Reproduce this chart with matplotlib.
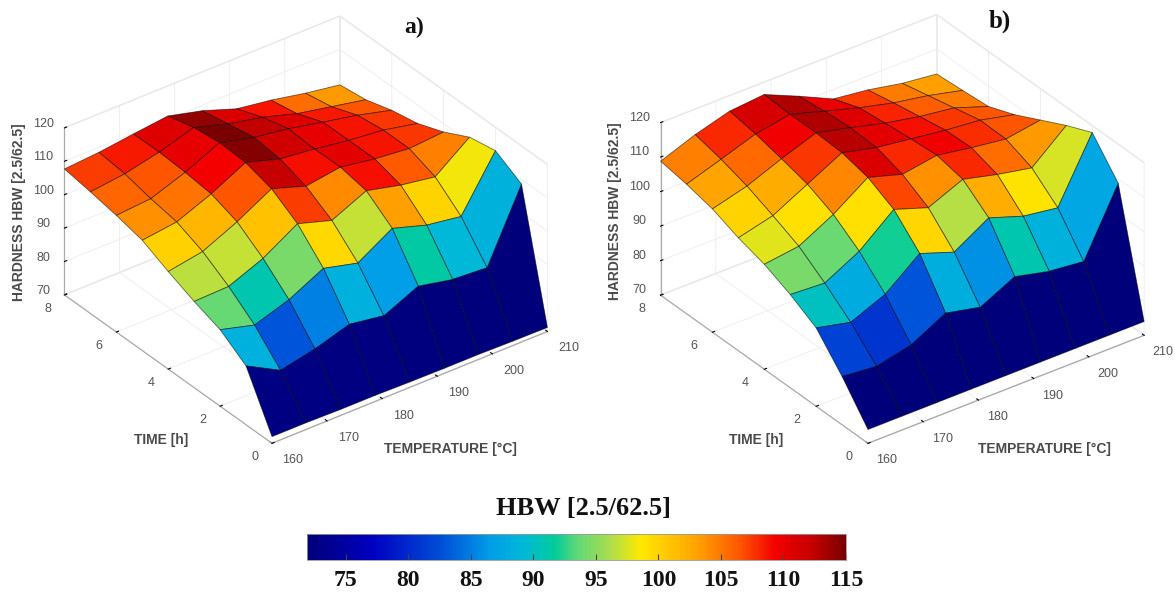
# hardness surfaces, two panels and one shared colorbar
import matplotlib
matplotlib.use("Agg")
import matplotlib.pyplot as plt
from matplotlib import cm
from matplotlib.colors import LinearSegmentedColormap, Normalize
from mpl_toolkits.mplot3d import proj3d
import numpy as np

temperature = [160, 166.25, 172.5, 178.75, 185, 191.25, 197.5, 203.75, 210]
time_h = [0, 1, 2, 3, 4, 5, 6, 7, 8]

# rows are time, columns are temperature
hardness_a = [
    [72, 72, 71.8, 71.8, 71.6, 71.5, 71.5, 71.3, 71.2],
    [87.6, 82.1, 84.3, 87.5, 85.9, 90.6, 88.4, 87.7, 108.6],
    [92.9, 90.1, 93.5, 98.7, 96.1, 102.3, 99.1, 97.5, 113],
    [95.8, 96.1, 100.3, 106.5, 103.3, 108, 105.5, 103.8, 111.5],
    [99.2, 101, 105.7, 111.4, 108, 109.5, 107.8, 106.7, 107.5],
    [103, 104.3, 108.5, 113.7, 110.6, 109.4, 107.8, 106.7, 104.5],
    [104.9, 105.7, 109.4, 114.1, 111.5, 109.9, 107.7, 105.6, 102.9],
    [106.4, 107.6, 109.9, 113.1, 110, 107.8, 104.7, 102.6, 100.5],
    [107.7, 108.5, 109.8, 111, 108.4, 104.8, 103.2, 101.1, 99.4],
]
hardness_b = [
    [74, 74, 74, 74, 74, 74, 74, 74, 74],
    [84, 83, 85.3, 90.6, 88.4, 93.4, 91, 89.9, 108.7],
    [92.7, 90.4, 94.6, 102.5, 99, 105, 101.6, 100.1, 118],
    [97, 96.4, 101.7, 109.9, 106.5, 110.8, 108.3, 106.3, 114.7],
    [100.4, 101.7, 107, 113.8, 110.8, 112.4, 110.7, 109.3, 110.9],
    [102.7, 105.2, 110.4, 115.6, 113.2, 111.8, 110.4, 109.4, 107.1],
    [105.7, 108.4, 112.4, 116, 113.6, 111, 109, 107.6, 104.1],
    [107.5, 110.8, 114.2, 116, 113, 110.1, 107.6, 105.8, 103.4],
    [108.8, 112.6, 115.5, 116.4, 112, 107.3, 106, 104, 102.8],
]

temp_ticks = [160, 170, 180, 190, 200, 210]
time_ticks = [0, 2, 4, 6, 8]
hbw_ticks = [70, 80, 90, 100, 110, 120]
cbar_ticks = [75, 80, 85, 90, 95, 100, 105, 110, 115]
cbar_range = [71.9, 115]

# the printed jet is duller than the stock one, colours taken from the colorbar
jet_stops = [(0.0, "#00007a"), (0.12, "#0000c0"), (0.25, "#0050d8"), (0.34, "#009ee8"),
             (0.40, "#00b8d8"), (0.46, "#00cc9a"), (0.50, "#5fd878"), (0.56, "#a8dd50"),
             (0.62, "#ffe800"), (0.72, "#ffa500"), (0.80, "#ff5a00"), (0.87, "#f40000"),
             (0.94, "#c40000"), (1.0, "#7a0000")]
print_jet = LinearSegmentedColormap.from_list("print_jet", jet_stops)

W, H = 1175, 594
SANS = "Liberation Sans"
SERIF = "Liberation Serif"
GRAY = "#555555"

fig = plt.figure(figsize=(W / 100, H / 100), dpi=100)


def surface(rect, data, elev, azim, aspect):
    ax = fig.add_axes(rect, projection="3d")
    ax.set_proj_type("ortho")
    ax.view_init(elev=elev, azim=azim)
    ax.set_box_aspect(aspect)
    ax.patch.set_alpha(0)

    X, Y = np.meshgrid(temperature, time_h)
    Z = np.array(data)
    colors = print_jet(Normalize(Z.min(), Z.max())(Z))
    ax.plot_surface(X, Y, Z, facecolors=colors, rstride=1, cstride=1, shade=False,
                    edgecolor=(0, 0, 0, 0.55), linewidth=0.6, antialiased=True)

    ax.set_xlim(160, 210, view_margin=0)
    ax.set_ylim(0, 8, view_margin=0)
    ax.set_zlim(70, 120, view_margin=0)
    ax.set_xticks(temp_ticks)
    ax.set_yticks(time_ticks)
    ax.set_zticks(hbw_ticks)
    ax.set_xticklabels([])
    ax.set_yticklabels([])
    ax.set_zticklabels([])
    for axis in (ax.xaxis, ax.yaxis, ax.zaxis):
        axis.set_pane_color((1, 1, 1, 1))
        axis.pane.set_edgecolor("#e4e4e4")
        axis.line.set_color("#aaaaaa")
        axis.line.set_linewidth(0.9)
        axis._axinfo["grid"].update(color="#ececec", linewidth=0.6)
        axis._axinfo["tick"].update(color="#999999", inward_factor=0.0, outward_factor=0.1)
    return ax


def to_px(ax, x, y, z):
    px, py, _ = proj3d.proj_transform(x, y, z, ax.get_proj())
    return ax.transData.transform((px, py))


def fit(ax, front, right):
    # move and scale the axes so two floor corners land on these pixels
    fig.canvas.draw()
    p0 = to_px(ax, 160, 0, 70)
    p1 = to_px(ax, 210, 0, 70)
    t0 = np.array([front[0], H - front[1]], dtype=float)
    t1 = np.array([right[0], H - right[1]], dtype=float)
    s = np.linalg.norm(t1 - t0) / np.linalg.norm(p1 - p0)
    pos = ax.get_position()
    ll = np.array([pos.x0 * W, pos.y0 * H])
    new_ll = t0 - (p0 - ll) * s
    ax.set_position([new_ll[0] / W, new_ll[1] / H, pos.width * s, pos.height * s])
    fig.canvas.draw()


def tick_text(ax, pos, off, s):
    # text at a projected tick position, off is in pixels, y down
    fig.text((pos[0] + off[0]) / W, (pos[1] - off[1]) / H, s, ha="center", va="center",
             family=SANS, fontsize=9, color=GRAY)


def tick_labels(ax, xoff, yoff, zoff):
    for t in temp_ticks:
        tick_text(ax, to_px(ax, t, 0, 70), xoff, str(t))
    for t in time_ticks:
        tick_text(ax, to_px(ax, 160, t, 70), yoff, str(t))
    for t in hbw_ticks:
        tick_text(ax, to_px(ax, 160, 8, t), zoff, str(t))


ax_a = surface([0.02, 0.1, 0.4, 0.4 * W / H], hardness_a, 32.6, -127, (1, 1, 0.575))
ax_b = surface([0.52, 0.1, 0.4, 0.4 * W / H], hardness_b, 31.9, -126.5, (1, 1.015, 0.592))
fit(ax_a, (272, 443.3), (547.5, 331.7))
fit(ax_b, (868, 443.3), (1144, 335))
tick_labels(ax_a, (21, 17), (-17, 14), (-21, -4))
tick_labels(ax_b, (19, 17), (-19, 14), (-21, -5))


def label(x, y, s, **kw):
    fig.text(x / W, 1 - y / H, s, ha="center", va="center", **kw)


axis_label = dict(family=SANS, weight="bold", fontsize=10, color="#4a4a4a")
label(161, 440, "TIME [h]", **axis_label)
label(756, 440, "TIME [h]", **axis_label)
label(19, 212, "HARDNESS HBW [2.5/62.5]", rotation=90, **axis_label)
label(615, 211, "HARDNESS HBW [2.5/62.5]", rotation=90, **axis_label)
label(450, 449, "TEMPERATURE [°C]", **axis_label)
label(1044, 449, "TEMPERATURE [°C]", **axis_label)
label(414, 27, "a)", family=SERIF, weight="bold", fontsize=17, color="#111111")
label(1000, 21, "b)", family=SERIF, weight="bold", fontsize=18, color="#111111")
label(583, 509, "HBW [2.5/62.5]", family=SERIF, weight="bold", fontsize=19, color="#111111")

cax = fig.add_axes([307 / W, 1 - 560 / H, (846 - 307) / W, 26 / H])
sm = cm.ScalarMappable(norm=Normalize(*cbar_range), cmap=print_jet)
cb = fig.colorbar(sm, cax=cax, orientation="horizontal")
cb.set_ticks(cbar_ticks)
cb.ax.tick_params(direction="in", length=4, width=0.8, color="#444444", pad=7, labelsize=17)
cb.outline.set_edgecolor("#999999")
cb.outline.set_linewidth(0.6)
for lab in cb.ax.get_xticklabels():
    lab.set_fontfamily(SERIF)
    lab.set_fontweight("bold")
    lab.set_color("#111111")

fig.savefig("out.png", dpi=100)
